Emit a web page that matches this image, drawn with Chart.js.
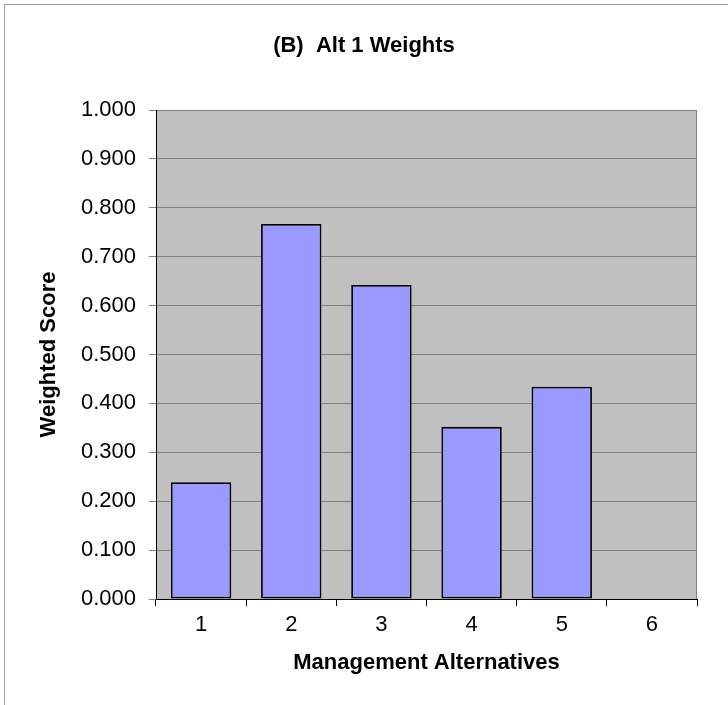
<!DOCTYPE html>
<html lang="en">
<head>
  <meta charset="UTF-8">
  <title>(B) Alt 1 Weights</title>
  <script src="https://cdn.jsdelivr.net/npm/chart.js"></script>
  <style>
    body { margin: 0; background: #fff; overflow: hidden; }
    #frame { position: absolute; left: 4px; top: 4px; width: 740px; height: 720px; border: 1px solid #a0a0a0; }
    #chart { position: absolute; left: 0; top: 0; }
  </style>
</head>
<body>
  <div id="frame"></div>
  <canvas id="chart" width="728" height="705"></canvas>

  <script>
    const alternatives = ['1', '2', '3', '4', '5', '6'];
    const weightedScores = [0.239, 0.767, 0.642, 0.352, 0.434, 0];

    // grey plot area + right edge line
    const plotBackground = {
      id: 'plotBackground',
      beforeDraw(chart) {
        const { ctx, chartArea: a } = chart;
        ctx.save();
        ctx.fillStyle = '#c0c0c0';
        ctx.fillRect(a.left, a.top, a.right - a.left, a.bottom - a.top);
        ctx.restore();
      },
      afterDatasetsDraw(chart) {
        const { ctx, chartArea: a } = chart;
        ctx.save();
        ctx.strokeStyle = '#808080';
        ctx.lineWidth = 1;
        ctx.beginPath();
        ctx.moveTo(a.right - 0.5, a.top);
        ctx.lineTo(a.right - 0.5, a.bottom);
        ctx.stroke();
        ctx.restore();
      }
    };

    const font = 'Liberation Sans, Arial, sans-serif';

    new Chart(document.getElementById('chart'), {
      type: 'bar',
      data: {
        labels: alternatives,
        datasets: [{
          data: weightedScores,
          backgroundColor: '#9999ff',
          borderColor: '#000',
          borderWidth: 1.8,
          borderSkipped: false,
          categoryPercentage: 1,
          barPercentage: 0.67
        }]
      },
      options: {
        responsive: false,
        animation: false,
        layout: { padding: 0 },
        plugins: {
          legend: { display: false },
          tooltip: { enabled: false },
          title: {
            display: true,
            text: '(B)  Alt 1 Weights',
            color: '#000',
            font: { family: font, size: 22, weight: 'bold' },
            padding: { top: 33, bottom: 50.6 }
          }
        },
        scales: {
          x: {
            grid: { drawOnChartArea: false, color: '#000', tickLength: 7 },
            border: { color: '#000', width: 1 },
            ticks: { color: '#000', font: { family: font, size: 22 }, padding: 6 },
            title: {
              display: true,
              text: 'Management Alternatives',
              color: '#000',
              font: { family: font, size: 22, weight: 'bold' },
              padding: { top: 4, bottom: 29 }
            },
            afterFit(scale) { scale.height = 106; }
          },
          y: {
            min: 0,
            max: 1,
            grid: { color: '#808080', tickLength: 7 },
            border: { color: '#000', width: 1 },
            ticks: {
              stepSize: 0.1,
              color: '#000',
              font: { family: font, size: 22 },
              padding: 13,
              callback: v => v.toFixed(3)
            },
            title: {
              display: true,
              text: 'Weighted Score',
              color: '#000',
              font: { family: font, size: 22, weight: 'bold' },
              padding: { top: 36, bottom: 4 }
            },
            afterFit(scale) { scale.width = 156; }
          },
          // empty right margin so the title stays centred on the page
          spacer: {
            type: 'linear',
            position: 'right',
            min: 0,
            max: 1,
            grid: { display: false },
            border: { display: false },
            ticks: { display: false },
            afterFit(scale) { scale.width = 31; }
          }
        }
      },
      plugins: [plotBackground]
    });
  </script>
</body>
</html>
